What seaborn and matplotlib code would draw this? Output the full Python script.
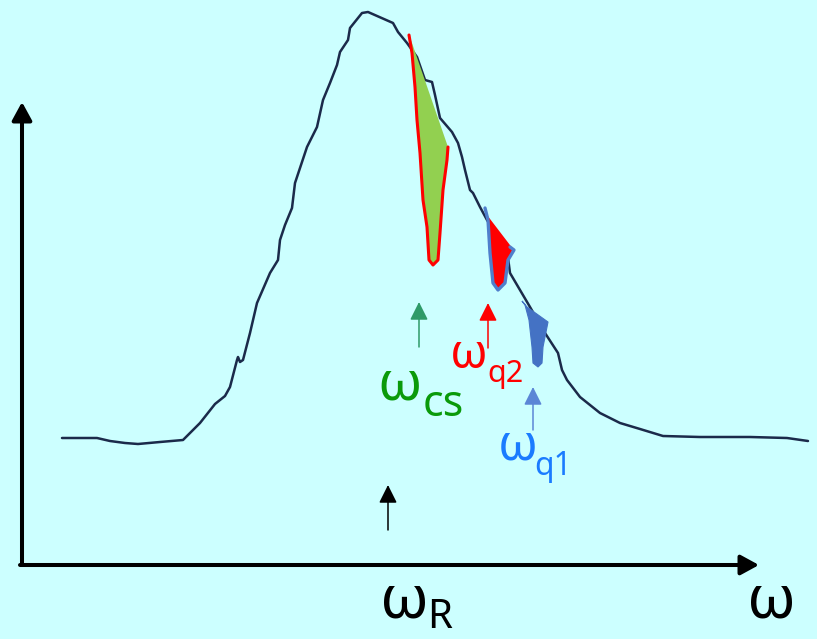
import matplotlib
matplotlib.use("Agg")
import matplotlib.pyplot as plt
from matplotlib.patches import FancyArrowPatch, Polygon
import pandas as pd
import seaborn as sns

# Spectrum: frequency offset from the origin vs. intensity above the baseline axis
omega = [40, 75, 88, 103, 116, 138, 161, 178, 193, 203, 208, 215, 216, 218, 221,
         228, 235, 248, 256, 258, 263, 270, 273, 278, 285, 295, 301, 308, 315, 318,
         326, 328, 340, 346, 371, 376, 385, 395, 403, 410, 413, 418, 430, 436, 440,
         443, 448, 451, 458, 465, 473, 485, 488, 498, 508, 523, 536, 540, 545, 558,
         578, 598, 618, 641, 678, 728, 765, 786]
intensity = [127, 127, 124, 122, 121, 123, 125, 142, 161, 169, 178, 205, 208, 203, 205,
             232, 262, 292, 305, 325, 340, 357, 382, 397, 418, 438, 465, 482, 500, 513,
             525, 537, 552, 553, 542, 533, 522, 508, 485, 483, 470, 447, 433, 422, 408,
             395, 375, 372, 358, 345, 332, 315, 292, 275, 258, 232, 212, 195, 185, 168,
             152, 142, 136, 129, 128, 128, 127, 124]

# Spectral hole burnt at omega_cs (green, red outline)
cs_x = [387, 390, 393, 395, 398, 401, 405, 407, 411, 416, 418, 421, 425, 426, 390]
cs_y = [530, 512, 478, 445, 412, 365, 338, 305, 300, 305, 332, 375, 405, 418, 522]
# Hole at omega_q2 (red, blue outline)
q2_x = [465, 468, 471, 476, 483, 486, 491]
q2_y = [350, 312, 282, 275, 282, 305, 316]
q2_edge_x = [463, 466, 468, 471, 476, 483, 486, 492, 488]
q2_edge_y = [357, 345, 312, 282, 275, 282, 305, 315, 318]
# Hole at omega_q1 (blue)
q1_x = [500, 505, 526, 521, 520, 516, 511, 510, 507, 503]
q1_y = [264, 258, 243, 218, 202, 198, 202, 218, 245, 260]

# Marker arrows: position, base, tip
arrow_x = [366, 397, 466, 511]
arrow_y0 = [35, 218, 217, 135]
arrow_y1 = [80, 263, 262, 178]
arrow_colors = ["black", "#2E9A68", "#FF0000", "#5B86D6"]

BG = "#CCFFFF"
sns.set_theme(style="white", rc={"axes.facecolor": BG, "figure.facecolor": BG})
plt.rcParams["font.family"] = ["Noto Sans", "DejaVu Sans"]

fig = plt.figure(figsize=(8.17, 6.39), dpi=100)
ax = fig.add_axes([0, 0, 1, 1])
ax.set_xlim(-22, 795)
ax.set_ylim(-74, 565)
ax.axis("off")

df = pd.DataFrame({"omega": omega, "intensity": intensity})
sns.lineplot(data=df, x="omega", y="intensity", sort=False, estimator=None,
             color="#1B2A4A", linewidth=1.8, ax=ax)

# green hole with red rim (rim open along the diagonal edge)
ax.add_patch(Polygon(list(zip(cs_x, cs_y)), closed=True, facecolor="#92D050",
                     edgecolor="none", zorder=3))
ax.plot(cs_x[:-1], cs_y[:-1], color="#FF0000", lw=2.2, zorder=4,
        solid_capstyle="round", solid_joinstyle="round")

# red hole with blue rim
ax.add_patch(Polygon(list(zip(q2_x, q2_y)), closed=True, facecolor="#FF0000",
                     edgecolor="none", zorder=3))
ax.plot(q2_edge_x, q2_edge_y, color="#4F7FCC", lw=2.4, zorder=4,
        solid_capstyle="round", solid_joinstyle="round")

# blue hole
ax.add_patch(Polygon(list(zip(q1_x, q1_y)), closed=True, facecolor="#4472C4",
                     edgecolor="#4472C4", lw=0.8, zorder=3))


def arrow(x0, y0, x1, y1, color, lw, hl, hw):
    ax.add_patch(FancyArrowPatch((x0, y0), (x1, y1),
                                 arrowstyle=f"-|>,head_length={hl},head_width={hw}",
                                 mutation_scale=1, color=color, lw=lw,
                                 shrinkA=0, shrinkB=0, zorder=5))


# coordinate axes
arrow(0, 0, 0, 463, "black", 2.9, 11, 6)
arrow(-2, 0, 737, 0, "black", 2.9, 11, 6)

for x, y0, y1, c in zip(arrow_x, arrow_y0, arrow_y1, arrow_colors):
    arrow(x, y0, x, y1, c, 1.1, 11, 5.5)

# labels
def label(x, y, main, sub, sx, sy, color, size, subsize):
    ax.text(x, y, main, color=color, fontsize=size, ha="left", va="baseline")
    ax.text(sx, sy, sub, color=color, fontsize=subsize, ha="left", va="baseline")


label(358, -53, "ω", "R", 405, -63, "black", 44, 29)
ax.text(725, -53, "ω", color="black", fontsize=44, ha="left", va="baseline")
label(355, 165, "ω", "cs", 401, 149, "#0A9A0A", 40, 31)
label(428, 197, "ω", "q2", 465, 183, "#FF0000", 34, 22)
label(476, 105, "ω", "q1", 512, 90, "#1A7BFF", 36, 23)

fig.savefig("out.png", dpi=100, facecolor=BG)
